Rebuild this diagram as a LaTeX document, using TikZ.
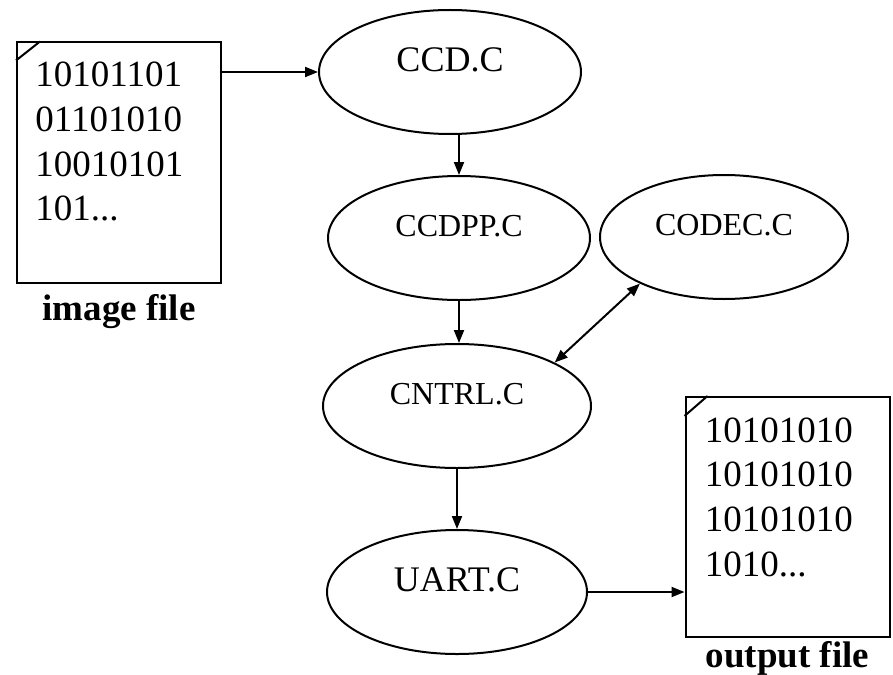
\documentclass[tikz,border=0pt]{standalone}
\usepackage{fontspec}
\setmainfont{Liberation Serif}
\usetikzlibrary{arrows.meta,positioning,shapes.geometric}
\tikzset{
  module/.style={ellipse,draw,line width=1pt,minimum width=#1,minimum height=62pt,
    inner sep=0pt,text depth=12pt,font=\fontsize{16}{19}\selectfont},
  module/.default=131pt,
  bigtext/.style={font=\fontsize{18}{21}\selectfont},
  filebox/.style={rectangle,draw,line width=1pt,minimum width=102pt,minimum height=120pt,inner sep=0pt},
  bits/.style={anchor=north west,align=left,inner sep=0pt,font=\fontsize{18.5}{22.4}\selectfont},
  filelabel/.style={inner sep=0pt,font=\fontsize{18.5}{21}\selectfont\bfseries},
  fold/.style={line width=1pt},
  arrow/.style={-{Triangle[length=6.5pt,width=5pt]},line width=1pt},
  dblarrow/.style={{Triangle[length=6.5pt,width=5pt]}-{Triangle[length=6.5pt,width=5pt]},line width=1pt}
}

\begin{document}
\begin{tikzpicture}[x=0.5pt,y=-0.5pt]
\useasboundingbox (0,0) rectangle (893,674);
% files
\node[filebox] (imgfile) at (119,162.5) {};
\draw[fold] ([yshift=-9.5pt]imgfile.north west) -- ([xshift=12pt]imgfile.north west);
\node[bits] (imgbits) at ([xshift=9.5pt,yshift=-10pt]imgfile.north west) {10101101\\01101010\\10010101\\101...};
\node[filelabel,below=5.5pt of imgfile] (imglabel) {image file};
\node[filebox] (outfile) at (787.5,517) {};
\draw[fold] ([yshift=-10pt]outfile.north west) -- ([xshift=11.5pt]outfile.north west);
\node[bits] (outbits) at ([xshift=10pt,yshift=-10.5pt]outfile.north west) {10101010\\10101010\\10101010\\1010...};
\node[filelabel,below=1.5pt of outfile] (outlabel) {output file};
% modules
\node[module,bigtext] (ccd) at (450,72) {CCD.C};
\node[module] (ccdpp) at (459,238) {CCDPP.C};
\node[module=124pt] (codec) at (724,237) {CODEC.C};
\node[module=134pt] (cntrl) at (457,406) {CNTRL.C};
\node[module=130pt,bigtext] (uart) at (457,592) {UART.C};
% connections
\draw[arrow] (imgfile.east |- ccd.west) -- (ccd.west);
\draw[arrow] (ccd.south -| ccdpp.north) -- (ccdpp.north);
\draw[arrow] (ccdpp.south) -- (ccdpp.south |- cntrl.north);
\draw[dblarrow] (cntrl.24) -- (codec.209);
\draw[arrow] (cntrl.south) -- (uart.north);
\draw[arrow] (uart.east) -- (uart.east -| outfile.west);
\end{tikzpicture}
\end{document}
